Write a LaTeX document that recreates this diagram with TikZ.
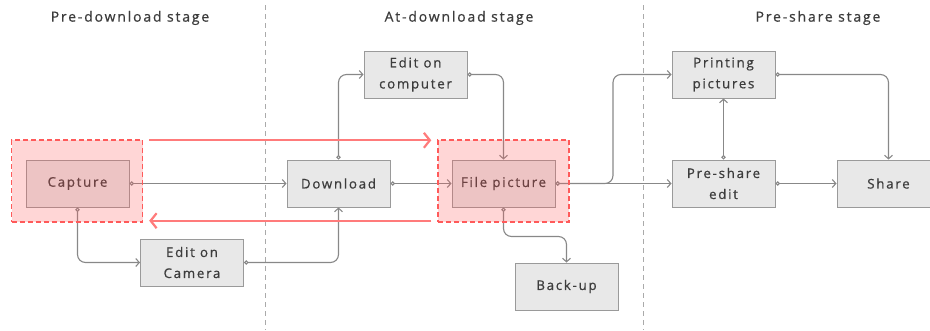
\documentclass[tikz,border=0pt]{standalone}
\usepackage{fontspec}
\setmainfont{Open Sans}[LetterSpace=13,FakeBold=0.7]
\usetikzlibrary{arrows.meta}

\definecolor{boxfill}{HTML}{E8E8E8}
\definecolor{boxline}{HTML}{9A9A9A}
\definecolor{txtgray}{HTML}{3C3C3C}
\definecolor{linegray}{HTML}{888888}
\definecolor{sepgray}{HTML}{AAAAAA}
\definecolor{zonered}{HTML}{FF5A5A}
\definecolor{arrowred}{HTML}{FF7B7B}

\tikzset{
  stagebox/.style={draw=boxline, fill=boxfill, line width=1pt,
    minimum width=103pt, minimum height=47pt, inner sep=0pt,
    align=center, text=txtgray, font=\fontsize{13.3}{21}\selectfont},
  conn/.style={draw=linegray, line width=1.1pt, rounded corners=8pt,
    {Circle[open,length=4.5pt,width=4.5pt,fill=white]}-{Straight Barb[length=3.5pt,width=8pt]}},
  redzone/.style={draw=zonered, dashed, dash pattern=on 5pt off 3pt,
    line width=1.4pt, fill=zonered, fill opacity=0.25, draw opacity=1,
    minimum width=131pt, minimum height=82pt, inner sep=0pt},
  redarrow/.style={draw=arrowred, line width=2.2pt,
    -{Straight Barb[length=6pt,width=15pt,line width=2.2pt]}},
  stagesep/.style={draw=sepgray, line width=0.9pt, dash pattern=on 5pt off 4pt},
  stagehead/.style={text=txtgray, font=\fontsize{14}{16}\selectfont}
}

\begin{document}
\begin{tikzpicture}[x=1pt,y=-1pt]
\useasboundingbox (0,0) rectangle (930,330);
\clip (0,0) rectangle (930,330);

% stage separators and headings
\draw[stagesep] (265,5) -- (265,330);
\draw[stagesep] (643,5) -- (643,330);
\node[stagehead] (h1) at (130,18) {Pre-download stage};
\node[stagehead] (h2) at (459,18) {At-download stage};
\node[stagehead] (h3) at (818,18) {Pre-share stage};

% process boxes
\node[stagebox] (capture)  at (77.5,183.5) {Capture};
\node[stagebox] (camera)   at (192,262.5)  {Edit on\\Camera};
\node[stagebox] (download) at (338.5,183.5) {Download};
\node[stagebox] (computer) at (415.5,74.5) {Edit on\\computer};
\node[stagebox] (file)     at (503.5,183.5) {File picture};
\node[stagebox] (backup)   at (566.5,286.5) {Back-up};
\node[stagebox] (printing) at (723.5,74.5) {Printing\\pictures};
\node[stagebox] (preedit)  at (723.5,183.5) {Pre-share\\edit};
\node[stagebox] (share)    at (888.5,183.5) {Share};

\coordinate (fork) at (613,183.5);

% connectors
\draw[conn] (capture.east) -- (download.west);
\draw[conn] (capture.south) |- (camera.west);
\draw[conn] (camera.east) -| (download.south);
\draw[conn] (download.north) |- (computer.west);
\draw[conn] (computer.east) -| (file.north);
\draw[conn] (download.east) -- (file.west);
\draw[conn] (file.south) -- ++(0,29) -| (backup.north);
\draw[conn] (file.east) -- (fork) |- (printing.west);
\draw[conn] (file.east) -- (preedit.west);
\draw[conn] (preedit.north) -- (printing.south);
\draw[conn] (preedit.east) -- (share.west);
\draw[conn] (printing.east) -| (share.north);

% highlighted zones
\node[redzone] (capzone)  at (77,181) {};
\node[redzone] (filezone) at (503.5,181) {};

% exchange arrows between the zones
\draw[redarrow] ([shift={(6,1)}]capzone.north east) -- ([shift={(-6,1)}]filezone.north west);
\draw[redarrow] ([shift={(-6,-2)}]filezone.south west) -- ([shift={(6,-2)}]capzone.south east);
\end{tikzpicture}
\end{document}
